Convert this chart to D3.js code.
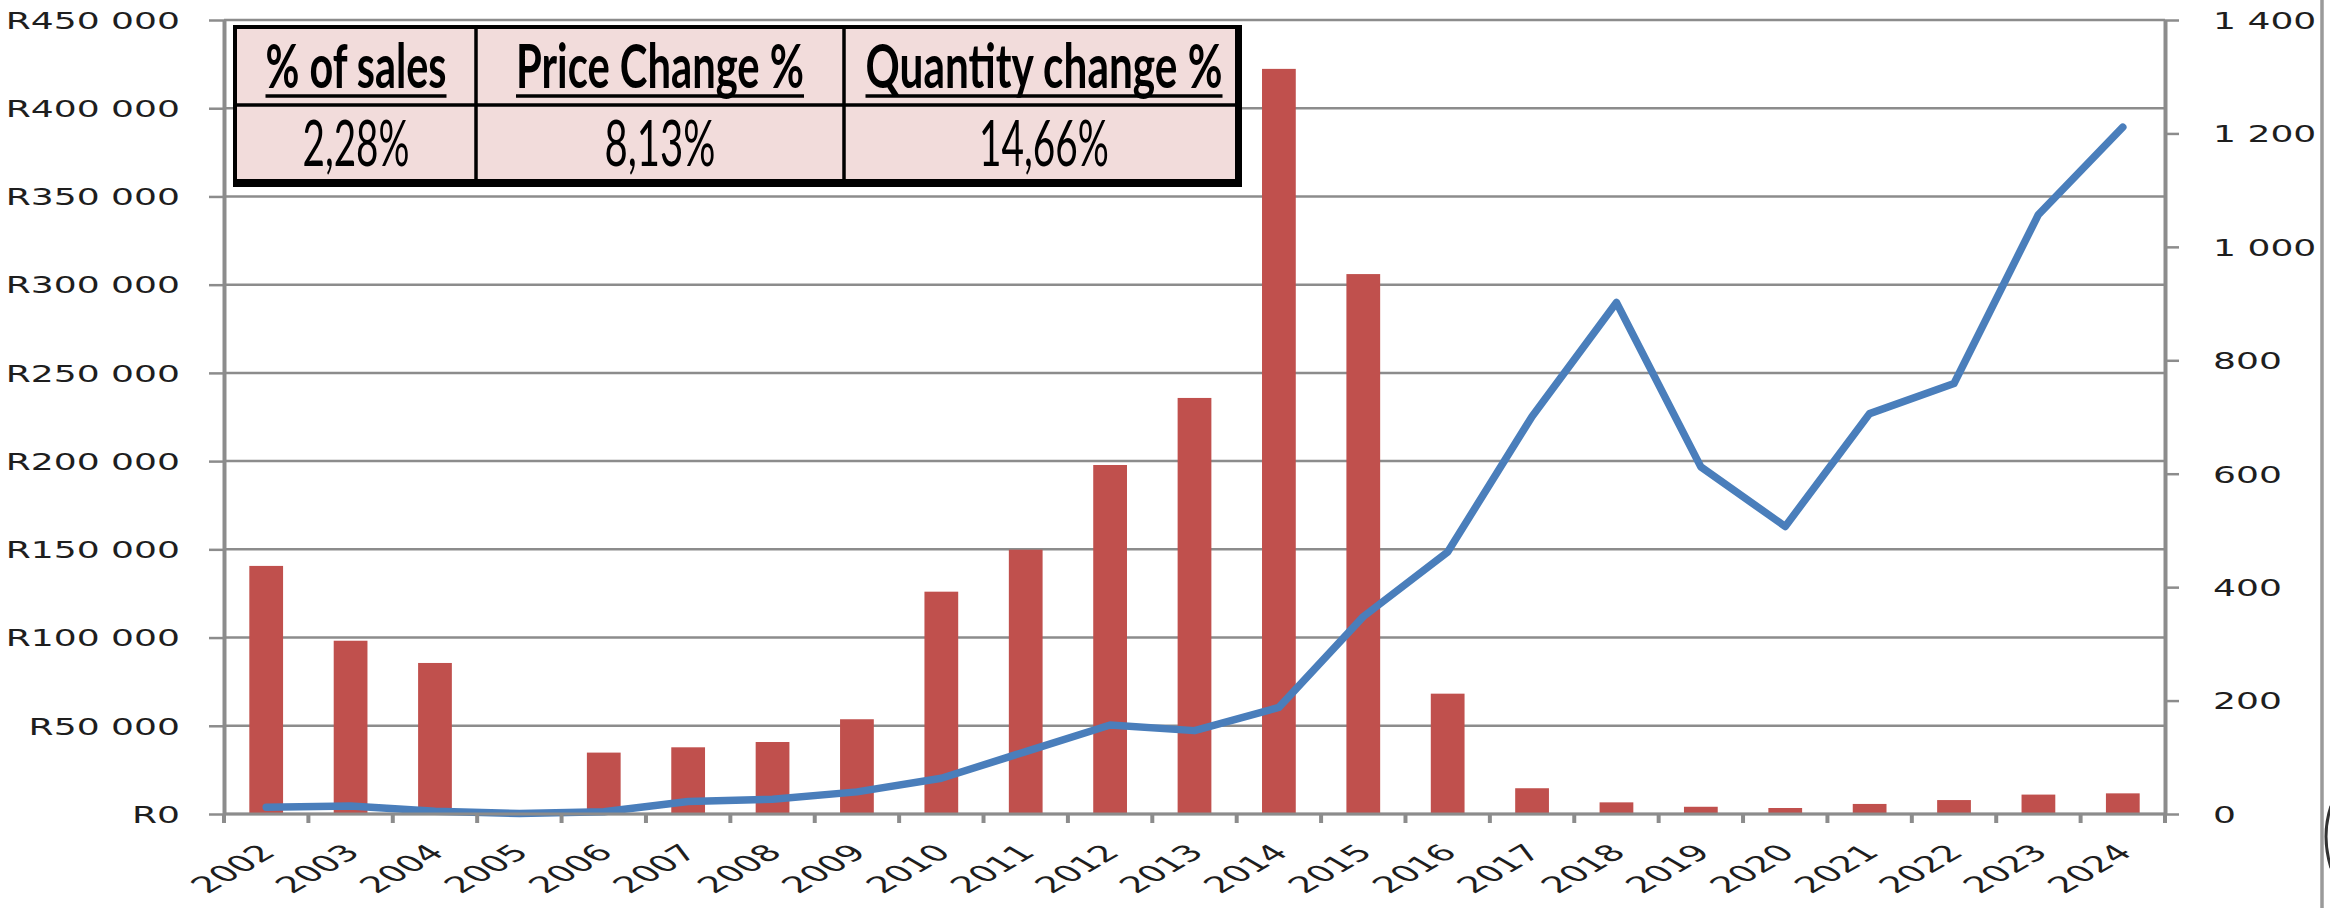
<!DOCTYPE html>
<html lang="en">
<head>
<meta charset="UTF-8">
<title>Sales (R) and quantity, 2002-2024</title>
<script src="https://d3js.org/d3.v7.min.js"></script>
<style>
  body { margin: 0; background: #fff; }
  svg { display: block; background: #fff; }
  .y-left .tick text { transform-box: fill-box; transform-origin: right center; transform: scaleX(1.57); }
  .y-right .tick text { transform-box: fill-box; transform-origin: left center; transform: scaleX(1.57); }
</style>
</head>
<body>
<svg width="2330" height="908"></svg>
<script>
// chart data
const years = ["2002", "2003", "2004", "2005", "2006", "2007", "2008", "2009", "2010", "2011", "2012",
  "2013", "2014", "2015", "2016", "2017", "2018", "2019", "2020", "2021", "2022", "2023", "2024"];
const sales = [140600, 98200, 85600, 0, 34800, 37800, 40800, 53700, 126000, 149800, 197800,
  235800, 422300, 306000, 68200, 14600, 6600, 4100, 3400, 5700, 7900, 11000, 11700];
const quantity = [12, 14, 5, 1, 4, 22, 26, 39, 63, 110, 157,
  147, 188, 348, 462, 701, 902, 612, 507, 706, 759, 1057, 1211];

const salesTicks = [0, 50000, 100000, 150000, 200000, 250000, 300000, 350000, 400000, 450000];
const quantityTicks = [0, 200, 400, 600, 800, 1000, 1200, 1400];

const tableHeaders = ["% of sales", "Price Change %", "Quantity change %"];
const tableValues = ["2,28%", "8,13%", "14,66%"];

const svg = d3.select("svg");
const gridColor = "#8c8c8c";

const x = d3.scaleBand().domain(years).range([224, 2165]).padding(0);
const yL = d3.scaleLinear().domain([0, 450000]).range([814, 20]);
const yR = d3.scaleLinear().domain([0, 1400]).range([814, 20]);
const barW = x.bandwidth() * 0.4;

const locale = d3.formatLocale({ decimal: ",", thousands: " ", grouping: [3], currency: ["R", ""] });
const fmtR = locale.format("$,");
const fmtN = locale.format(",");

// horizontal gridlines (left axis)
svg.append("g")
  .selectAll("line")
  .data(salesTicks)
  .join("line")
  .attr("x1", x.range()[0])
  .attr("x2", x.range()[1])
  .attr("y1", d => yL(d))
  .attr("y2", d => yL(d))
  .attr("stroke", gridColor)
  .attr("stroke-width", 2.5);

// bars
svg.append("g")
  .selectAll("rect")
  .data(years.map((y, i) => ({ year: y, v: sales[i] })))
  .join("rect")
  .attr("x", d => x(d.year) + (x.bandwidth() - barW) / 2)
  .attr("width", barW)
  .attr("y", d => yL(d.v))
  .attr("height", d => yL(0) - yL(d.v))
  .attr("fill", "#C0504D");

// quantity line
const line = d3.line()
  .x(d => x(d.year) + x.bandwidth() / 2)
  .y(d => yR(d.q));
svg.append("path")
  .datum(years.map((y, i) => ({ year: y, q: quantity[i] })))
  .attr("d", line)
  .attr("fill", "none")
  .attr("stroke", "#4A7EBB")
  .attr("stroke-width", 7.5)
  .attr("stroke-linejoin", "round")
  .attr("stroke-linecap", "round");

// left axis
const gL = svg.append("g")
  .attr("class", "y-left")
  .attr("transform", `translate(${x.range()[0]},0)`)
  .call(d3.axisLeft(yL).tickValues(salesTicks).tickFormat(fmtR)
    .tickSizeInner(15).tickSizeOuter(0).tickPadding(29));

// right axis
const gR = svg.append("g")
  .attr("class", "y-right")
  .attr("transform", `translate(${x.range()[1]},0)`)
  .call(d3.axisRight(yR).tickValues(quantityTicks).tickFormat(fmtN)
    .tickSizeInner(14).tickSizeOuter(0).tickPadding(34));

[gL, gR].forEach(g => {
  g.attr("font-size", 23).attr("font-family", "'DejaVu Sans', Verdana, sans-serif");
  g.select(".domain").attr("stroke", gridColor).attr("stroke-width", 4);
  g.selectAll(".tick line").attr("stroke", gridColor).attr("stroke-width", 2.5);
  g.selectAll(".tick text").attr("dy", "0.36em").attr("fill", "#1e1e1e");
});

// bottom axis: labels at category centres, tick marks between categories
const gB = svg.append("g")
  .attr("transform", `translate(0,${yL(0)})`)
  .call(d3.axisBottom(x).tickSize(0).tickPadding(0));
gB.select(".domain").remove();
gB.attr("font-size", 22.5).attr("font-family", "'DejaVu Sans', Verdana, sans-serif");
gB.selectAll(".tick text")
  .attr("y", 0)
  .attr("dy", null)
  .attr("text-anchor", "end")
  .attr("fill", "#1e1e1e")
  .attr("transform", "translate(11,40) scale(1.72,1) rotate(-45)");

svg.append("line")
  .attr("x1", x.range()[0]).attr("x2", x.range()[1])
  .attr("y1", yL(0)).attr("y2", yL(0))
  .attr("stroke", gridColor).attr("stroke-width", 3);

svg.append("g")
  .selectAll("line")
  .data(d3.range(years.length + 1))
  .join("line")
  .attr("x1", i => x.range()[0] + i * x.step())
  .attr("x2", i => x.range()[0] + i * x.step())
  .attr("y1", yL(0))
  .attr("y2", yL(0) + 9)
  .attr("stroke", gridColor)
  .attr("stroke-width", 4);

// summary table
const table = svg.append("g").attr("font-family", "Lato, 'Open Sans', sans-serif");
const colEdges = [235, 476, 844, 1239];
const headerW = [181, 288, 357];
const valueW = [107, 111, 130];
const textCx = [356, 660, 1044];

table.append("rect")
  .attr("x", 235).attr("y", 27).attr("width", 1002).attr("height", 154)
  .attr("fill", "#F2DCDB").attr("stroke", "#000").attr("stroke-width", 4);
table.append("rect")
  .attr("x", 233).attr("y", 180).attr("width", 1009).attr("height", 7).attr("fill", "#000");
table.append("rect")
  .attr("x", 1236).attr("y", 25).attr("width", 6).attr("height", 162).attr("fill", "#000");
table.append("line")
  .attr("x1", 235).attr("x2", 1239).attr("y1", 105).attr("y2", 105)
  .attr("stroke", "#000").attr("stroke-width", 3.5);
table.selectAll(".col")
  .data(colEdges.slice(1, 3))
  .join("line")
  .attr("x1", d => d).attr("x2", d => d)
  .attr("y1", 27).attr("y2", 181)
  .attr("stroke", "#000").attr("stroke-width", 3.5);

// squeeze a text to a given width with a horizontal scale
function fitText(sel, cx, y, w) {
  const len = sel.node().getComputedTextLength();
  sel.attr("x", 0).attr("y", 0)
    .attr("transform", `translate(${cx},${y}) scale(${w / len},1)`);
}

tableHeaders.forEach((t, i) => {
  const txt = table.append("text")
    .attr("text-anchor", "middle")
    .attr("font-size", 62).attr("font-weight", 700)
    .attr("fill", "#000")
    .text(t);
  fitText(txt, textCx[i], 88, headerW[i]);
  table.append("line")
    .attr("x1", textCx[i] - headerW[i] / 2).attr("x2", textCx[i] + headerW[i] / 2)
    .attr("y1", 96).attr("y2", 96)
    .attr("stroke", "#000").attr("stroke-width", 3.5);
});
tableValues.forEach((t, i) => {
  const txt = table.append("text")
    .attr("text-anchor", "middle")
    .attr("font-size", 64)
    .attr("fill", "#000")
    .text(t);
  fitText(txt, textCx[i], 166, valueW[i]);
});

// right frame edge of the screenshot
svg.append("line")
  .attr("x1", 2322).attr("x2", 2322).attr("y1", 0).attr("y2", 908)
  .attr("stroke", "#9a9a9a").attr("stroke-width", 3.5);
svg.append("path")
  .attr("d", "M2331,806 Q2321,836 2331,868")
  .attr("fill", "none").attr("stroke", "#333").attr("stroke-width", 3);
</script>
</body>
</html>
